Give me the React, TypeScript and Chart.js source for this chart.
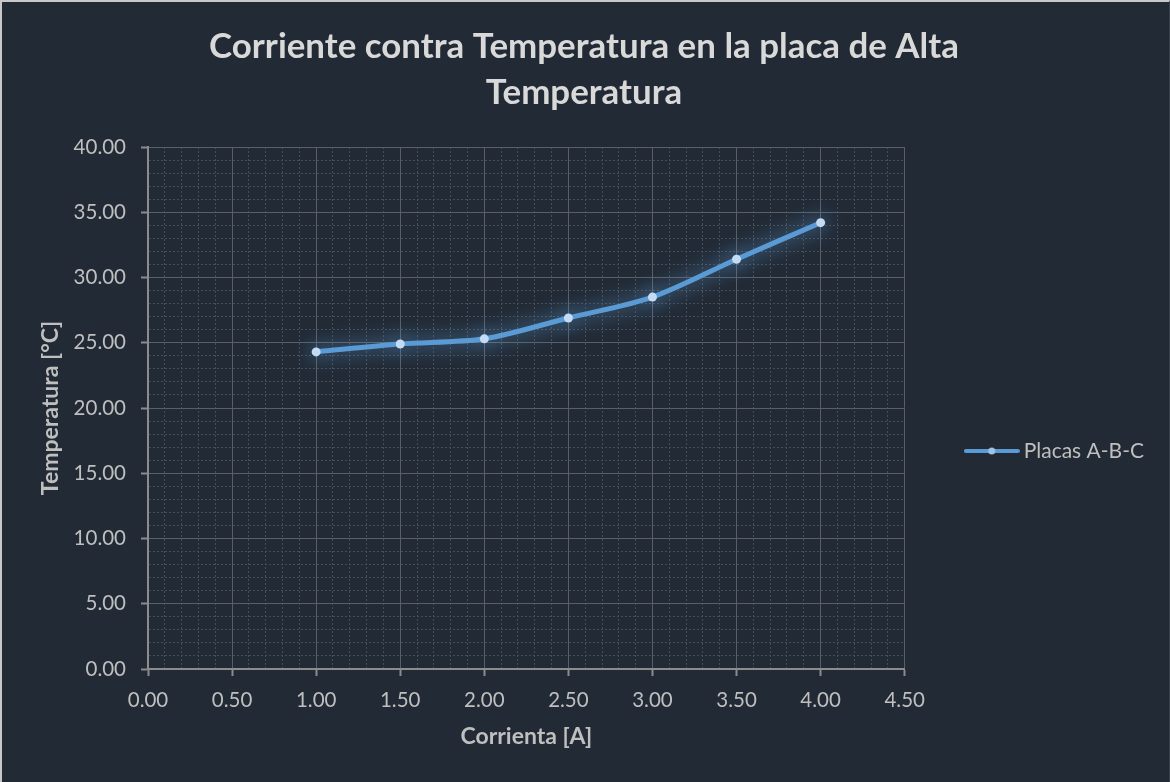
import React, { useEffect, useRef } from "react";
import { Chart, registerables } from "chart.js";

Chart.register(...registerables);

const corriente = [1.0, 1.5, 2.0, 2.5, 3.0, 3.5, 4.0];
const temperatura = [24.3, 24.9, 25.3, 26.9, 28.5, 31.4, 34.2];
const seriesName = "Placas A-B-C";
const titleLines = ["Corriente contra Temperatura en la placa de Alta", "Temperatura"];
const xTitle = "Corrienta [A]";
const yTitle = "Temperatura [°C]";

const BG = "#222a35";
const FONT = "Lato";

function makeLegendImage(): HTMLCanvasElement {
  const c = document.createElement("canvas");
  c.width = 56;
  c.height = 12;
  const g = c.getContext("2d")!;
  g.strokeStyle = "#5b9bd5";
  g.lineWidth = 4;
  g.lineCap = "round";
  g.beginPath();
  g.moveTo(2, 6);
  g.lineTo(54, 6);
  g.stroke();
  g.fillStyle = "#9dc3e6";
  g.beginPath();
  g.arc(28, 6, 3.5, 0, Math.PI * 2);
  g.fill();
  return c;
}

const glowPlugin = {
  id: "glow",
  beforeDatasetDraw(chart: any) {
    const ctx = chart.ctx;
    ctx.save();
    ctx.shadowColor = "rgba(91,155,213,1)";
    ctx.shadowBlur = 20;
  },
  afterDatasetDraw(chart: any) {
    chart.ctx.restore();
  },
};

const isMajorX = (v: number) => Math.round(v * 10) % 5 === 0;
const isMajorY = (v: number) => Math.round(v) % 5 === 0;

export default function App() {
  const ref = useRef<HTMLCanvasElement>(null);
  useEffect(() => {
    const legendImg = makeLegendImage();
    const chart = new Chart(ref.current!, {
      type: "line",
      data: {
        datasets: [
          {
            label: seriesName,
            data: corriente.map((x, i) => ({ x, y: temperatura[i] })),
            borderColor: "#5b9bd5",
            backgroundColor: "#5b9bd5",
            borderWidth: 5,
            tension: 0.3,
            pointRadius: 4.5,
            pointBackgroundColor: "#c4dcf3",
            pointBorderWidth: 0,
            fill: false,
          },
        ],
      },
      options: {
        responsive: false,
        animation: false,
        maintainAspectRatio: false,
        layout: { padding: { left: 14, right: 16, top: 0, bottom: 0 } },
        plugins: {
          tooltip: { enabled: false },
          title: {
            display: true,
            text: titleLines,
            color: "#d9d9d9",
            font: { family: FONT, size: 34.9, weight: "bold", lineHeight: "46px" },
            padding: { top: 24, bottom: 31 },
          },
          legend: {
            position: "right",
            fullSize: false,
            title: { display: true, text: "", padding: { top: 0, bottom: 74 }, font: { size: 10, lineHeight: "12px" } },
            labels: {
              color: "#bfbfbf",
              font: { family: FONT, size: 21 },
              usePointStyle: true,
              pointStyleWidth: 43,
              padding: 65.5,
              generateLabels: (ch: any) =>
                (Chart.defaults.plugins.legend.labels.generateLabels as any)(ch).map((l: any) => ({
                  ...l,
                  pointStyle: legendImg,
                })),
            },
          },
        },
        scales: {
          x: {
            type: "linear",
            min: 0,
            max: 4.5,
            afterFit: (s: any) => {
              s.height = 113;
            },
            ticks: {
              stepSize: 0.1,
              autoSkip: false,
              maxRotation: 0,
              color: "#bfbfbf",
              font: { family: FONT, size: 20.5 },
              padding: 12,
              callback: (v: any) => (isMajorX(Number(v)) ? Number(v).toFixed(2) : ""),
            },
            grid: {
              color: (c: any) => (c.tick && isMajorX(c.tick.value) ? "#5a5f67" : "#474d57"),
              lineWidth: 1,
              tickLength: 7,
              tickWidth: 2,
              tickColor: (c: any) => (c.tick && isMajorX(c.tick.value) ? "#8c8c8c" : "rgba(0,0,0,0)"),
            },
            border: {
              color: "#8c8c8c",
              width: 2,
              dash: (c: any) => (c.tick && !isMajorX(c.tick.value) ? [2, 2] : []),
            },
            title: {
              display: true,
              text: xTitle,
              color: "#bfbfbf",
              font: { family: FONT, size: 23, weight: "bold", lineHeight: 1.2 },
              padding: { top: 0, bottom: 31.2 },
            },
          },
          y: {
            type: "linear",
            min: 0,
            max: 40,
            afterFit: (s: any) => {
              s.width = 134;
            },
            ticks: {
              stepSize: 1,
              autoSkip: false,
              color: "#bfbfbf",
              font: { family: FONT, size: 20.5 },
              padding: 15,
              callback: (v: any) => (isMajorY(Number(v)) ? Number(v).toFixed(2) : ""),
            },
            grid: {
              color: (c: any) => (c.tick && isMajorY(c.tick.value) ? "#5a5f67" : "#474d57"),
              lineWidth: 1,
              tickLength: 7,
              tickWidth: 2,
              tickColor: (c: any) => (c.tick && isMajorY(c.tick.value) ? "#8c8c8c" : "rgba(0,0,0,0)"),
            },
            border: {
              color: "#8c8c8c",
              width: 2,
              dash: (c: any) => (c.tick && !isMajorY(c.tick.value) ? [2, 2] : []),
            },
            title: {
              display: true,
              text: yTitle,
              color: "#bfbfbf",
              font: { family: FONT, size: 23, weight: "bold", lineHeight: 1.2 },
              padding: { top: 23.2, bottom: 0 },
            },
          },
        },
      } as any,
      plugins: [glowPlugin],
    });
    return () => chart.destroy();
  }, []);

  return (
    <div style={{ position: "fixed", left: 0, top: 0, width: 1170, height: 782, background: BG }}>
      <canvas ref={ref} width={1170} height={782} style={{ display: "block", width: 1170, height: 782 }} />
      <div
        style={{
          position: "absolute",
          left: 0,
          top: 0,
          width: 1170,
          height: 782,
          boxSizing: "border-box",
          borderTop: "2px solid #c8c8c8",
          borderLeft: "2px solid #c8c8c8",
          borderRight: "1px solid #3a414c",
          pointerEvents: "none",
        }}
      />
    </div>
  );
}
